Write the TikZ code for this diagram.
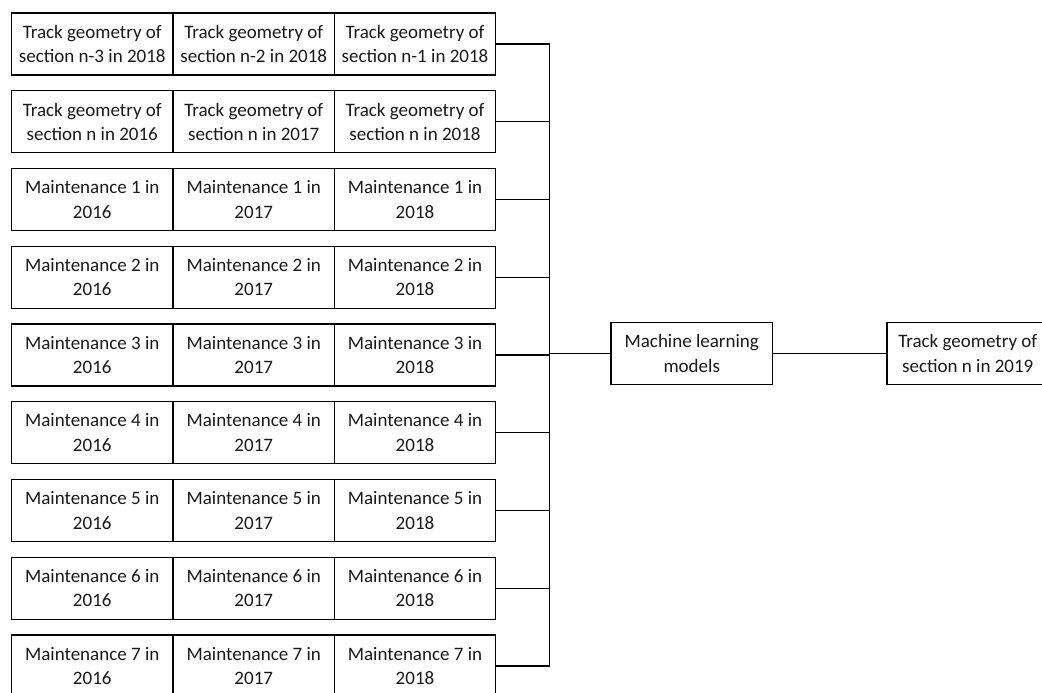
\documentclass[tikz,border=0pt]{standalone}
\usepackage{fontspec}
\setmainfont{Carlito}
\begin{document}
\begin{tikzpicture}[x=1pt,y=-1pt,
  box/.style={draw=black,line width=1.1pt,minimum width=161.5pt,minimum height=62pt,inner sep=0pt,align=center,font=\fontsize{19}{24.5}\selectfont,text=black!90},
  link/.style={draw=black,line width=1.1pt}]
\useasboundingbox (0,0) rectangle (1042,693);
\foreach \r/\a/\b/\c in {
 1/{Track geometry of\\section n-3 in 2018}/{Track geometry of\\section n-2 in 2018}/{Track geometry of\\section n-1 in 2018},
 2/{Track geometry of\\section n in 2016}/{Track geometry of\\section n in 2017}/{Track geometry of\\section n in 2018},
 3/{Maintenance 1 in\\2016}/{Maintenance 1 in\\2017}/{Maintenance 1 in\\2018},
 4/{Maintenance 2 in\\2016}/{Maintenance 2 in\\2017}/{Maintenance 2 in\\2018},
 5/{Maintenance 3 in\\2016}/{Maintenance 3 in\\2017}/{Maintenance 3 in\\2018},
 6/{Maintenance 4 in\\2016}/{Maintenance 4 in\\2017}/{Maintenance 4 in\\2018},
 7/{Maintenance 5 in\\2016}/{Maintenance 5 in\\2017}/{Maintenance 5 in\\2018},
 8/{Maintenance 6 in\\2016}/{Maintenance 6 in\\2017}/{Maintenance 6 in\\2018},
 9/{Maintenance 7 in\\2016}/{Maintenance 7 in\\2017}/{Maintenance 7 in\\2018}}{
  \pgfmathsetmacro{\yy}{44+77.75*(\r-1)}
  \node[box] (r\r c1) at (92.25,\yy) {\a};
  \node[box] (r\r c2) at (253.75,\yy) {\b};
  \node[box] (r\r c3) at (415,\yy) {\c};
  \coordinate (bus\r) at (549.5,\yy);
  \draw[link] (r\r c3.east) -- (bus\r);
}
\draw[link] (bus1) -- (bus9);
\node[box] (ml) at (691.75,353.5) {Machine learning\\models};
\node[box] (out) at (967.75,353.5) {Track geometry of\\section n in 2019};
\coordinate (busml) at (549.5,353.5);
\draw[link] (busml) -- (ml.west);
\draw[link] (ml.east) -- (out.west);
\end{tikzpicture}
\end{document}
